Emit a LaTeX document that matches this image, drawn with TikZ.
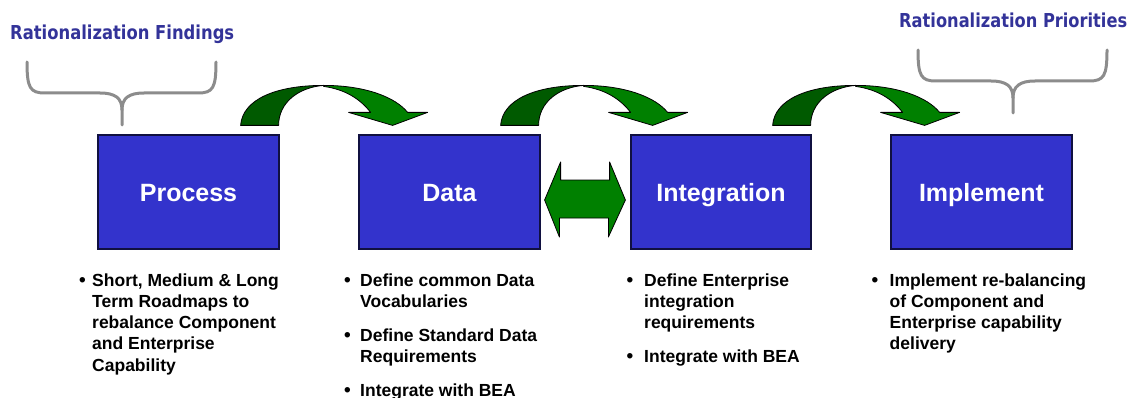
\documentclass[tikz,border=0pt]{standalone}
\usepackage{fontspec}
\usepackage{graphicx}
\setmainfont{Liberation Sans}
\newfontfamily\titlefont{DejaVu Sans}
\definecolor{boxblue}{HTML}{3333CC}
\definecolor{boxline}{HTML}{101040}
\definecolor{titleblue}{HTML}{333399}
\definecolor{arrowlight}{HTML}{008000}
\definecolor{arrowdark}{HTML}{005A00}
\definecolor{bracegray}{HTML}{8C8C8C}
\begin{document}
\begin{tikzpicture}[x=1pt,y=-1pt,
  stagebox/.style={draw=boxline, fill=boxblue, line width=1.2pt, minimum height=114pt,
    inner sep=0pt, text height=18pt, text depth=0pt, text=white, font=\fontsize{25}{30}\selectfont\bfseries},
  title/.style={anchor=base west, inner sep=0pt, text=titleblue, font=\fontsize{19.2}{23}\selectfont\titlefont\bfseries},
  bt/.style={anchor=base west, inner sep=0pt, font=\fontsize{17.5}{21}\selectfont\bfseries},
  bullet/.style={anchor=base west, inner sep=0pt, font=\fontsize{19}{21}\selectfont\bfseries},
  greenshape/.style={draw=black, line width=0.8pt, line join=round},
  bracestyle/.style={draw=bracegray, line width=3pt, line cap=round},
  curvedarrow/.pic={
    \path[greenshape, fill=arrowdark] (-38,0) .. controls (-36,-26) and (-3,-40) .. (45,-40)
      .. controls (20,-38) and (0,-23) .. (0,0) -- cycle;
    \path[greenshape, fill=arrowlight] (45,-40) .. controls (87,-40) and (117,-28) .. (129,-13)
      -- (149,-13) -- (114,0) -- (70,-13) -- (92,-13)
      .. controls (82,-26) and (67,-36) .. (45,-39) -- cycle;
  },
  curlybrace/.pic={
    \path[bracestyle] (-95,0) .. controls (-95,26) and (-92,31) .. (-77,31) -- (-22,31)
      .. controls (-7,31) and (0,36) .. (0,48) -- (0,63);
    \path[bracestyle] (94,0) .. controls (94,26) and (91,31) .. (76,31) -- (22,31)
      .. controls (7,31) and (0,36) .. (0,48);
  }
]
\useasboundingbox (0,0) rectangle (1131,398);

% titles
\node[title] (t1) at (10,40) {\resizebox{224pt}{\height}{Rationalization Findings}};
\node[title] (t2) at (899,28) {\resizebox{228pt}{\height}{Rationalization Priorities}};

% braces
\pic at (122,62) {curlybrace};
\pic at (1013,50) {curlybrace};

% boxes
\node[stagebox, minimum width=181pt] (process) at (188.5,192) {Process};
\node[stagebox, minimum width=181pt] (data) at (449.5,192) {Data};
\node[stagebox, minimum width=180pt] (integ) at (721,192) {Integration};
\node[stagebox, minimum width=181pt] (impl) at (981.5,192) {Implement};

% curved arrows
\pic at ([xshift=-1pt,yshift=9pt]process.north east) {curvedarrow};
\pic at ([xshift=-2pt,yshift=9pt]data.north east) {curvedarrow};
\pic at ([xshift=-1pt,yshift=9pt]integ.north east) {curvedarrow};

% double arrow
\coordinate (dl) at ([xshift=4pt,yshift=-8pt]data.east);
\coordinate (dr) at ([xshift=-5pt,yshift=-8pt]integ.west);
\path[greenshape, fill=arrowlight] (dl) -- ++(16,-38) -- ++(0,18) -- ++(49,0) -- ++(0,-18)
  -- (dr) -- ++(-17,37) -- ++(0,-19) -- ++(-49,0) -- ++(0,19) -- cycle;

% bullets: Process
\node[bullet] (pb1) at (79,286) {•};
\node[bt] (pa1) at (92,286) {Short, Medium \& Long};
\node[bt] (pa2) at (92,307.3) {Term Roadmaps to};
\node[bt] (pa3) at (92,328.6) {rebalance Component};
\node[bt] (pa4) at (92,349.9) {and Enterprise};
\node[bt] (pa5) at (92,371.2) {Capability};

% bullets: Data
\node[bullet] (db1) at (344,286) {•};
\node[bt] (da1) at (360,286) {Define common Data};
\node[bt] (da2) at (360,307.3) {Vocabularies};
\node[bullet] (db2) at (344,341.5) {•};
\node[bt] (da3) at (360,341.5) {Define Standard Data};
\node[bt] (da4) at (360,362.8) {Requirements};
\node[bullet] (db3) at (344,396.3) {•};
\node[bt] (da5) at (360,396.3) {Integrate with BEA};

% bullets: Integration
\node[bullet] (ib1) at (626.5,286) {•};
\node[bt] (ia1) at (644,286) {Define Enterprise};
\node[bt] (ia2) at (644,307.3) {integration};
\node[bt] (ia3) at (644,328.6) {requirements};
\node[bullet] (ib2) at (626.5,362) {•};
\node[bt] (ia4) at (644,362) {Integrate with BEA};

% bullets: Implement
\node[bullet] (mb1) at (871.5,286) {•};
\node[bt] (ma1) at (889.5,286) {Implement re-balancing};
\node[bt] (ma2) at (889.5,307.3) {of Component and};
\node[bt] (ma3) at (889.5,328.6) {Enterprise capability};
\node[bt] (ma4) at (889.5,349.9) {delivery};
\end{tikzpicture}
\end{document}
